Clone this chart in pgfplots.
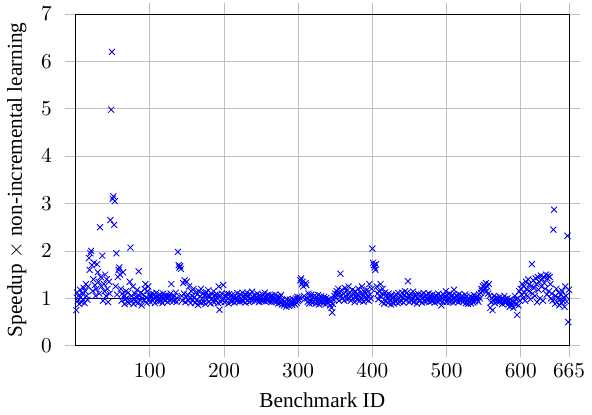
\documentclass[border=0pt]{standalone}
\usepackage{pgfplots}
\pgfplotsset{compat=1.18}
\usepackage{fontspec}
\setmainfont{Liberation Serif}
\begin{document}
\begin{tikzpicture}
\begin{axis}[
    scale only axis,
    width=232pt,
    height=156pt,
    xmin=0, xmax=665,
    ymin=0, ymax=7,
    xtick={100,200,300,400,500,600,665},
    ytick={0,1,2,3,4,5,6,7},
    xlabel={Benchmark ID},
    ylabel={Speedup $\times$ non-incremental learning},
    grid=major,
    tick align=outside,
    major tick length=5.2pt,
    every tick/.style={black!25},
    yticklabel style={xshift=-2.5pt},
]
\addplot[black, thin, forget plot] coordinates {(0,1) (100,1)};
\addplot[only marks, mark=x, blue] table[row sep=\\, x expr=\coordindex+1, y index=0] {
y\\
0.75\\ 1.12\\ 0.95\\ 1.05\\ 0.88\\ 1.18\\ 1.02\\ 0.92\\ 1.10\\ 0.98\\
1.22\\ 0.90\\ 1.15\\ 1.30\\ 1.05\\ 0.97\\ 1.25\\ 1.85\\ 1.60\\ 1.95\\
2.00\\ 1.70\\ 1.15\\ 1.40\\ 1.75\\ 1.28\\ 1.05\\ 1.20\\ 1.72\\ 1.55\\
1.35\\ 1.10\\ 2.50\\ 1.45\\ 1.25\\ 1.90\\ 0.95\\ 1.30\\ 1.15\\ 1.50\\
1.05\\ 1.40\\ 1.20\\ 0.92\\ 1.35\\ 1.10\\ 2.65\\ 4.98\\ 6.20\\ 3.10\\
3.15\\ 2.55\\ 3.05\\ 1.25\\ 1.95\\ 1.08\\ 1.45\\ 1.60\\ 1.65\\ 1.50\\
1.20\\ 0.95\\ 1.10\\ 1.55\\ 1.05\\ 0.88\\ 0.98\\ 1.15\\ 1.00\\ 0.92\\
1.12\\ 0.90\\ 1.35\\ 2.07\\ 1.05\\ 0.95\\ 1.25\\ 0.88\\ 1.00\\ 1.10\\
0.93\\ 1.02\\ 1.18\\ 0.90\\ 1.57\\ 1.05\\ 0.97\\ 1.12\\ 0.85\\ 1.00\\
1.08\\ 0.95\\ 1.20\\ 1.30\\ 1.02\\ 0.90\\ 1.15\\ 1.25\\ 0.98\\ 1.05\\
0.92\\ 1.05\\ 1.10\\ 0.95\\ 1.00\\ 1.08\\ 0.90\\ 1.02\\ 1.12\\ 0.97\\
1.05\\ 0.93\\ 1.00\\ 1.08\\ 0.95\\ 1.03\\ 0.90\\ 1.10\\ 0.98\\ 1.05\\
0.95\\ 1.02\\ 1.07\\ 0.92\\ 1.00\\ 1.05\\ 0.96\\ 1.10\\ 1.30\\ 0.98\\
1.02\\ 0.94\\ 1.05\\ 0.97\\ 1.12\\ 0.92\\ 1.00\\ 1.98\\ 1.70\\ 1.65\\
1.68\\ 1.62\\ 1.05\\ 0.95\\ 1.32\\ 1.10\\ 1.38\\ 0.92\\ 1.02\\ 1.35\\
1.08\\ 0.95\\ 1.25\\ 1.00\\ 0.90\\ 1.15\\ 1.05\\ 0.97\\ 1.20\\ 1.02\\
0.90\\ 1.12\\ 0.96\\ 1.08\\ 0.86\\ 1.15\\ 0.93\\ 1.04\\ 1.20\\ 0.91\\
1.00\\ 1.10\\ 0.92\\ 1.07\\ 0.88\\ 1.13\\ 0.97\\ 1.05\\ 1.17\\ 0.93\\
1.04\\ 0.89\\ 1.10\\ 1.00\\ 0.94\\ 1.15\\ 0.91\\ 1.07\\ 0.97\\ 1.02\\
1.08\\ 0.90\\ 1.25\\ 0.76\\ 1.04\\ 0.92\\ 1.10\\ 0.96\\ 1.28\\ 1.00\\
0.92\\ 1.06\\ 0.95\\ 1.10\\ 0.99\\ 0.89\\ 1.09\\ 0.96\\ 1.05\\ 0.93\\
1.07\\ 0.95\\ 1.02\\ 0.91\\ 1.06\\ 1.00\\ 0.94\\ 1.11\\ 0.97\\ 1.04\\
0.93\\ 1.08\\ 0.99\\ 0.95\\ 1.12\\ 0.94\\ 1.05\\ 1.00\\ 0.91\\ 1.07\\
1.12\\ 0.96\\ 1.04\\ 0.92\\ 1.09\\ 1.00\\ 0.95\\ 1.14\\ 1.03\\ 0.97\\
1.07\\ 0.94\\ 1.02\\ 0.96\\ 1.10\\ 0.99\\ 0.92\\ 1.06\\ 0.98\\ 1.04\\
0.94\\ 1.08\\ 1.00\\ 0.95\\ 1.12\\ 0.93\\ 1.05\\ 0.99\\ 0.95\\ 1.07\\
1.00\\ 0.94\\ 1.05\\ 0.92\\ 1.06\\ 0.96\\ 1.01\\ 0.93\\ 1.08\\ 0.97\\
0.93\\ 1.04\\ 0.89\\ 0.97\\ 1.02\\ 0.91\\ 1.07\\ 0.87\\ 0.96\\ 0.90\\
0.85\\ 0.94\\ 0.89\\ 0.82\\ 0.98\\ 0.87\\ 0.93\\ 0.84\\ 0.97\\ 0.89\\
0.92\\ 0.86\\ 0.98\\ 0.90\\ 0.95\\ 0.87\\ 1.00\\ 0.91\\ 1.03\\ 0.94\\
0.97\\ 1.02\\ 1.38\\ 1.42\\ 1.30\\ 1.35\\ 1.25\\ 1.05\\ 0.98\\ 1.32\\
1.28\\ 1.00\\ 0.93\\ 1.10\\ 0.89\\ 1.04\\ 0.95\\ 1.08\\ 0.90\\ 1.02\\
0.93\\ 1.06\\ 0.97\\ 0.89\\ 1.02\\ 0.94\\ 1.07\\ 0.87\\ 0.99\\ 0.92\\
1.04\\ 0.93\\ 1.00\\ 0.90\\ 1.03\\ 0.95\\ 0.87\\ 1.01\\ 0.92\\ 0.97\\
0.90\\ 0.98\\ 0.85\\ 0.95\\ 0.80\\ 0.70\\ 0.88\\ 0.97\\ 1.05\\ 1.10\\
1.00\\ 1.15\\ 1.08\\ 1.20\\ 0.95\\ 1.12\\ 1.52\\ 1.05\\ 1.18\\ 1.00\\
1.10\\ 0.95\\ 1.22\\ 1.05\\ 1.15\\ 0.98\\ 1.08\\ 1.25\\ 1.00\\ 1.12\\
0.95\\ 1.05\\ 1.18\\ 1.00\\ 1.10\\ 0.92\\ 1.15\\ 1.02\\ 1.08\\ 0.97\\
1.20\\ 1.05\\ 0.95\\ 1.12\\ 1.00\\ 1.25\\ 1.08\\ 0.93\\ 1.15\\ 1.02\\
1.10\\ 0.97\\ 1.18\\ 1.05\\ 0.95\\ 1.30\\ 1.08\\ 1.00\\ 1.20\\ 2.05\\
1.75\\ 1.70\\ 1.65\\ 1.60\\ 1.72\\ 1.25\\ 1.10\\ 0.98\\ 1.15\\ 1.05\\
1.30\\ 1.03\\ 0.92\\ 1.20\\ 1.08\\ 0.89\\ 1.12\\ 0.95\\ 1.06\\ 1.00\\
0.90\\ 1.10\\ 0.96\\ 1.04\\ 0.87\\ 1.07\\ 0.93\\ 1.01\\ 0.89\\ 1.05\\
0.94\\ 1.08\\ 0.97\\ 0.90\\ 1.11\\ 1.00\\ 0.92\\ 1.04\\ 0.95\\ 1.12\\
1.00\\ 0.91\\ 1.07\\ 1.15\\ 0.96\\ 1.03\\ 1.12\\ 1.36\\ 1.06\\ 0.92\\
1.03\\ 1.10\\ 0.95\\ 1.00\\ 1.14\\ 0.92\\ 1.07\\ 0.97\\ 1.05\\ 0.89\\
1.00\\ 1.09\\ 0.94\\ 1.04\\ 0.96\\ 1.08\\ 0.91\\ 1.01\\ 1.11\\ 0.95\\
1.04\\ 0.93\\ 1.07\\ 1.00\\ 0.96\\ 1.10\\ 0.92\\ 1.05\\ 1.00\\ 0.94\\
1.08\\ 0.96\\ 1.02\\ 0.91\\ 1.06\\ 0.98\\ 1.04\\ 0.93\\ 1.10\\ 1.00\\
0.95\\ 1.05\\ 0.85\\ 1.01\\ 0.93\\ 1.08\\ 0.97\\ 1.04\\ 1.15\\ 0.92\\
1.06\\ 0.95\\ 1.00\\ 1.10\\ 0.93\\ 1.04\\ 0.97\\ 1.07\\ 0.91\\ 1.18\\
1.00\\ 0.94\\ 1.06\\ 0.97\\ 1.04\\ 0.92\\ 1.09\\ 0.98\\ 1.02\\ 0.95\\
1.05\\ 0.92\\ 1.01\\ 0.96\\ 1.08\\ 0.90\\ 1.04\\ 0.95\\ 0.88\\ 1.00\\
0.93\\ 1.04\\ 0.89\\ 0.97\\ 1.01\\ 0.91\\ 1.07\\ 0.94\\ 0.99\\ 1.03\\
0.97\\ 1.05\\ 0.93\\ 1.08\\ 1.00\\ 1.12\\ 1.20\\ 1.15\\ 1.25\\ 1.18\\
1.28\\ 1.22\\ 1.32\\ 1.15\\ 1.25\\ 1.10\\ 1.30\\ 1.05\\ 0.80\\ 0.92\\
1.00\\ 0.75\\ 0.95\\ 1.05\\ 0.90\\ 0.98\\ 1.02\\ 0.93\\ 1.00\\ 0.96\\
0.92\\ 1.03\\ 0.95\\ 0.98\\ 0.88\\ 1.00\\ 0.94\\ 1.05\\ 0.90\\ 0.97\\
0.93\\ 1.00\\ 0.87\\ 0.95\\ 0.82\\ 0.98\\ 0.90\\ 0.85\\ 0.95\\ 0.80\\
0.92\\ 1.05\\ 0.88\\ 0.98\\ 0.65\\ 1.00\\ 0.85\\ 1.15\\ 0.95\\ 1.20\\
1.08\\ 1.30\\ 1.00\\ 1.25\\ 1.12\\ 0.95\\ 1.35\\ 1.20\\ 1.05\\ 1.40\\
1.15\\ 1.30\\ 0.98\\ 1.25\\ 1.72\\ 1.10\\ 1.38\\ 1.22\\ 1.05\\ 1.42\\
1.30\\ 0.92\\ 1.45\\ 1.18\\ 1.35\\ 1.00\\ 1.48\\ 1.25\\ 1.40\\ 0.95\\
1.45\\ 1.32\\ 1.20\\ 1.50\\ 1.08\\ 1.42\\ 1.48\\ 1.15\\ 1.45\\ 1.30\\
1.00\\ 1.10\\ 0.95\\ 2.45\\ 2.87\\ 0.88\\ 1.05\\ 1.20\\ 0.92\\ 1.00\\
1.12\\ 0.85\\ 0.98\\ 1.08\\ 0.90\\ 1.15\\ 0.95\\ 1.02\\ 0.82\\ 1.25\\
1.05\\ 0.93\\ 2.32\\ 0.50\\ 1.18\\
};
\end{axis}
\end{tikzpicture}
\end{document}
